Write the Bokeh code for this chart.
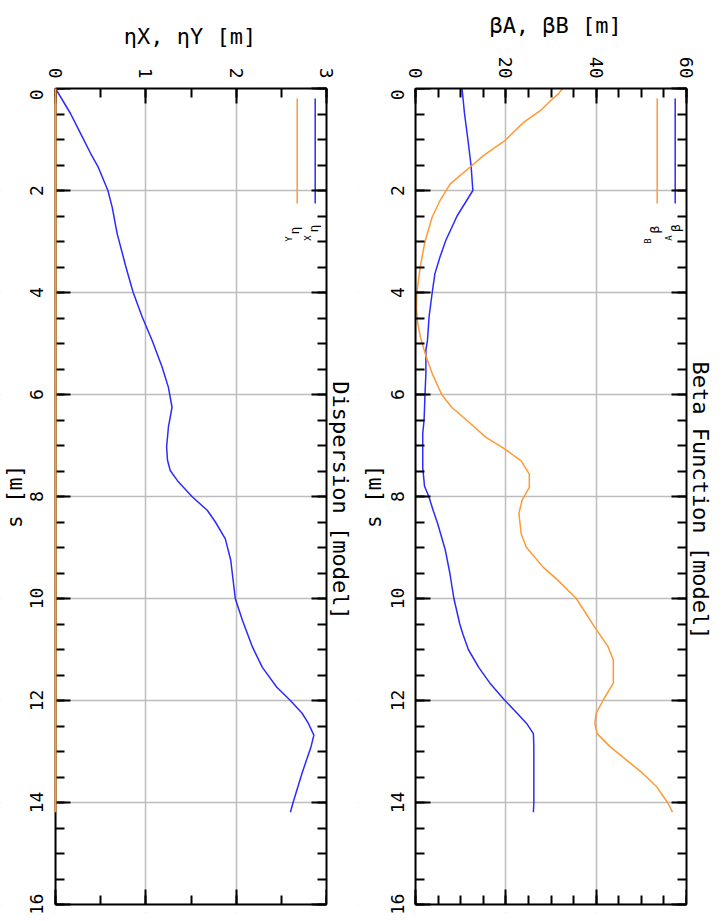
import math
from bokeh.plotting import figure
from bokeh.models import Range1d, LinearAxis, SingleIntervalTicker, Label, Title, BoxAnnotation
from bokeh.layouts import row
from bokeh.embed import file_html
from bokeh.resources import INLINE

# ---------------- data ----------------
# Beta function panel: s [m] and beta values [m]
beta_a_s = [0.0, 0.49, 1.0, 1.51, 2.0, 2.5, 2.98, 3.31, 3.63, 4.0, 4.48, 4.93, 5.13, 5.59,
            6.0, 6.5, 6.77, 7.43, 7.8, 8.0, 8.27, 8.53, 9.05, 9.5, 10.0, 10.5, 10.7, 11.0,
            11.35, 11.65, 11.97, 12.25, 12.45, 12.65, 12.9, 13.5, 14.0, 14.19]
beta_a = [10.3, 10.85, 11.6, 12.3, 12.7, 9.2, 6.7, 5.4, 4.3, 3.7, 3.0, 2.66, 2.3, 2.3,
          2.1, 1.9, 1.6, 1.6, 2.0, 2.95, 3.9, 4.9, 6.6, 7.6, 8.5, 9.8, 10.5, 11.7,
          14.0, 16.4, 19.5, 22.5, 24.6, 26.1, 26.2, 26.2, 26.2, 26.1]

beta_b_s = [0.0, 0.1, 0.23, 0.43, 0.66, 1.02, 1.31, 1.51, 1.87, 2.2, 2.52, 2.85, 3.0, 3.47,
            4.0, 4.3, 4.6, 4.88, 5.27, 5.59, 6.0, 6.25, 6.5, 6.84, 7.04, 7.3, 7.56, 7.82,
            8.07, 8.33, 8.73, 8.99, 9.38, 9.64, 10.0, 10.55, 10.94, 11.2, 11.66, 12.0,
            12.25, 12.45, 12.65, 12.9, 13.16, 13.42, 13.68, 14.0, 14.19]
beta_b = [32.5, 31.7, 30.0, 27.7, 24.0, 19.8, 15.1, 12.5, 7.7, 5.4, 3.7, 2.6, 2.1, 1.1,
          0.3, 0.2, 0.5, 1.1, 2.4, 3.7, 5.8, 8.0, 11.3, 15.6, 19.3, 23.4, 25.2, 25.2,
          23.6, 22.9, 23.4, 24.5, 28.2, 31.5, 35.6, 39.6, 42.6, 43.8, 43.8, 41.5,
          40.0, 39.7, 40.2, 43.0, 46.6, 50.2, 53.3, 55.8, 56.9]

# Dispersion panel: s [m] and eta values [m]
eta_x_s = [0.0, 0.49, 0.88, 1.27, 1.53, 1.73, 2.0, 2.33, 2.85, 3.3, 3.47, 4.0, 4.48, 4.94,
           5.46, 5.86, 6.25, 6.64, 7.03, 7.29, 7.49, 7.69, 8.0, 8.27, 8.5, 8.83, 9.25,
           10.0, 10.43, 10.95, 11.35, 11.74, 12.0, 12.25, 12.45, 12.68, 12.9, 13.42, 14.0, 14.19]
eta_x = [0.0, 0.166, 0.277, 0.388, 0.47, 0.517, 0.58, 0.628, 0.683, 0.75, 0.775, 0.86, 0.96, 1.07,
         1.18, 1.25, 1.29, 1.25, 1.23, 1.24, 1.27, 1.35, 1.51, 1.68, 1.77, 1.88, 1.94,
         1.99, 2.07, 2.18, 2.29, 2.45, 2.6, 2.73, 2.8, 2.86, 2.83, 2.73, 2.63, 2.6]
eta_y_s = [0.0, 14.19]
eta_y = [0.0, 0.0]

s_range = (0, 16)
s_tick_values = [0, 2, 4, 6, 8, 10, 12, 14, 16]
beta_range = (0, 60)
eta_range = (0, 3)

# ---------------- styling / layout ----------------
FONT = "DejaVu Sans Mono"
ADV = 0.602                        # advance of the mono font, in em
BLUE = "#2b2bff"
ORANGE = "#ff9933"
GRID = "#bdbdbd"
PAGE_H = 921
BOX_TOP, BOX_H = 88, 816           # drawn panel box, page rows
FRAME_BOTTOM = 912                 # Bokeh frame reaches a little below the box
FRAME_W = 271                      # width of each drawn panel box
TICK_PX = 18                       # s tick label font size
ORIENT_CW = -math.pi / 2           # top-axis label orientation giving clockwise text
LABEL_CW = math.pi / 2             # Label angle giving clockwise text
PX_PER_S = BOX_H / (s_range[1] - s_range[0])


def s_at(Y):
    """s value at page row Y."""
    return s_range[0] + (Y - BOX_TOP) / PX_PER_S


def style_axis(ax, labels):
    ax.axis_line_color = "black"
    ax.axis_line_width = 2
    ax.major_tick_line_color = "black"
    ax.major_tick_line_width = 2
    ax.minor_tick_line_color = "black"
    ax.minor_tick_line_width = 2
    ax.major_tick_in = 15
    ax.major_tick_out = 0
    ax.minor_tick_in = 9
    ax.minor_tick_out = 0
    ax.major_label_text_font = FONT
    ax.axis_label_text_font = FONT
    ax.axis_label_text_font_style = "normal"
    ax.axis_label_text_color = "black"
    if labels:
        ax.major_label_text_font_size = "18px"
        ax.major_label_orientation = ORIENT_CW
        ax.major_label_text_color = "black"
        ax.major_label_standoff = 10
    else:
        ax.major_label_orientation = "horizontal"
        ax.major_label_text_color = None
        ax.major_label_text_font_size = "1px"
        ax.major_label_standoff = 0


class Panel:
    """One panel. The Bokeh frame also spans a margin left of / below the drawn box, so that
    the clockwise s-axis labels can be written there through the s scale."""

    def __init__(self, xr, x_interval, x_minor, canvas_left, box_left, width,
                 x_label, x_label_centre, title):
        self.ppu = FRAME_W / (xr[1] - xr[0])
        self.box_left = box_left
        x_start = xr[0] - (box_left - canvas_left) / self.ppu
        right = width - (box_left - canvas_left) - FRAME_W
        y_hi = s_at(FRAME_BOTTOM)
        p = figure(width=width, height=PAGE_H, x_range=Range1d(x_start, xr[1]),
                   y_range=Range1d(y_hi, s_range[0]),
                   x_axis_location="above", y_axis_location="left", output_backend="svg",
                   toolbar_location=None, min_border_left=0, min_border_right=right,
                   min_border_top=BOX_TOP, min_border_bottom=PAGE_H - FRAME_BOTTOM)
        p.outline_line_color = None
        p.background_fill_color = "white"
        p.border_fill_color = "white"
        xt = SingleIntervalTicker(interval=x_interval, num_minor_ticks=x_minor)
        yt = SingleIntervalTicker(interval=2, num_minor_ticks=4)

        top_ax = p.above[0]
        left_ax = p.left[0]
        top_ax.ticker = xt
        left_ax.ticker = yt
        top_ax.bounds = xr
        left_ax.bounds = s_range
        left_ax.fixed_location = xr[0]
        bot_ax = LinearAxis(ticker=xt, bounds=xr, fixed_location=s_range[1])
        right_ax = LinearAxis(ticker=yt, bounds=s_range)
        p.add_layout(bot_ax, "below")
        p.add_layout(right_ax, "right")
        style_axis(top_ax, True)
        style_axis(left_ax, False)
        style_axis(bot_ax, False)
        style_axis(right_ax, False)

        # value-axis title: Bokeh centres it on the frame, so pad it to sit over the box
        frame_centre = (canvas_left + box_left + FRAME_W) / 2
        pad = max(0, round(2 * (x_label_centre - frame_centre) / (ADV * 22)))
        top_ax.axis_label = "\u00a0" * pad + x_label
        top_ax.axis_label_text_font_size = "22px"
        top_ax.axis_label_standoff = 16

        for g in (p.xgrid, p.ygrid):
            g.grid_line_color = GRID
            g.grid_line_width = 1.5
        p.xgrid.ticker = xt
        p.ygrid.ticker = yt
        # keep the margins round the box clear of grid lines
        for kw in (dict(left=x_start, right=xr[0]),
                   dict(top=s_range[1], bottom=y_hi)):
            p.add_layout(BoxAnnotation(fill_color="white", fill_alpha=1.0, line_color=None,
                                       level="underlay", **kw))

        p.add_layout(Title(text=title, align="center", text_font=FONT, text_font_size="22px",
                           text_font_style="normal", text_color="black", standoff=2), "right")
        self.p = p

    def x_at(self, X):
        """data x at page column X."""
        return (X - self.box_left) / self.ppu

    def text(self, X, s, text, size):
        """clockwise text centred at page column X and s position s."""
        self.p.add_layout(Label(x=self.x_at(X), y=s, text=text, text_font=FONT,
                                text_font_size=f"{size}px", angle=LABEL_CW, level="overlay",
                                text_align="center", text_baseline="middle", text_color="black"))

    def s_axis_labels(self, X_ticks, X_title):
        for v in s_tick_values:
            # the frame starts at the box top: keep the first label wholly inside it
            half = len(str(v)) * ADV * TICK_PX / 2 + 1
            self.text(X_ticks, max(v, s_at(BOX_TOP + half)), str(v), TICK_PX)
        self.text(X_title, (s_range[0] + s_range[1]) / 2, "s [m]", 21)


# ---------------- dispersion panel ----------------
P1 = Panel(eta_range, 1, 2, canvas_left=0, box_left=55, width=358,
           x_label="ηX, ηY [m]", x_label_centre=192.5, title="Dispersion [model]")
P1.s_axis_labels(35.5, 14.5)
p1 = P1.p
p1.line(eta_x, eta_x_s, line_color=BLUE, line_width=1.5)
p1.line(eta_y, eta_y_s, line_color=ORANGE, line_width=2, level="overlay")

for X, col in ((296.7, ORANGE), (314.7, BLUE)):
    xv = P1.x_at(X)
    p1.line([xv, xv], [s_at(98), s_at(203)], line_color=col, line_width=1.5)
for t, sz, X, Y in (("η", 13, 312.5, 228), ("X", 9, 307.5, 237.5),
                    ("η", 13, 294, 230), ("Y", 9, 288, 238.5)):
    P1.text(X, s_at(Y), t, sz)

# ---------------- beta panel ----------------
P2 = Panel(beta_range, 20, 4, canvas_left=358, box_left=415, width=366,
           x_label="βA, βB [m]", x_label_centre=553.5, title="Beta Function [model]")
P2.s_axis_labels(397, 373.5)
p2 = P2.p
p2.line(beta_a, beta_a_s, line_color=BLUE, line_width=1.5)
p2.line(beta_b, beta_b_s, line_color=ORANGE, line_width=1.5)

for X, col in ((656.7, ORANGE), (674.7, BLUE)):
    xv = P2.x_at(X)
    p2.line([xv, xv], [s_at(98), s_at(203)], line_color=col, line_width=1.5)
for t, sz, X, Y in (("β", 13, 675, 227.5), ("A", 9, 668, 237.5),
                    ("β", 13, 654, 229), ("B", 9, 647, 240.5)):
    P2.text(X, s_at(Y), t, sz)

layout = row(p1, p2)
open("out.html", "w").write(file_html(layout, INLINE))
